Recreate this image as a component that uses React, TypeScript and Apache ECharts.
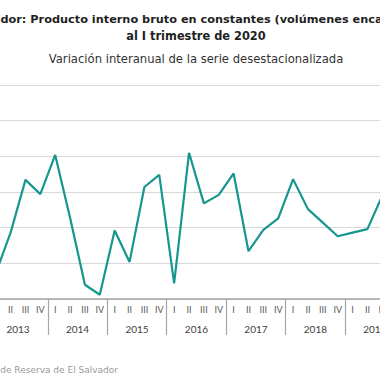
import React, { useEffect, useRef } from "react";
import * as echarts from "echarts";

const years = ["2013", "2014", "2015", "2016", "2017", "2018", "2019"];
const quarterNames = ["I", "II", "III", "IV"];
const quarters: string[] = years.flatMap(() => quarterNames);
// Variación interanual (%), I-2013 .. IV-2019
const values = [
  1.36, 1.93, 2.67, 2.47,
  3.02, 2.14, 1.2, 1.06,
  1.96, 1.52, 2.57, 2.74,
  1.22, 3.05, 2.34, 2.46,
  2.76, 1.67, 1.97, 2.13,
  2.68, 2.26, 2.07, 1.88,
  1.93, 1.98, 2.45, 2.5,
];
const titleLine1 = "El Salvador: Producto interno bruto en constantes (volúmenes encadenados)";
const titleLine2 = "al I trimestre de 2020";
const subtitle = "Variación interanual de la serie desestacionalizada";
const source = "Fuente: Banco Central de Reserva de El Salvador";

const OFF = 60; // chart is shifted left by this many px inside the visible window
const W = 520;
const H = 380;

export default function App() {
  const ref = useRef<HTMLDivElement>(null);
  useEffect(() => {
    if (!ref.current) return;
    const chart = echarts.init(ref.current, null, { renderer: "svg" });
    const font = "Lato, 'Open Sans', sans-serif";
    const wide = "'DejaVu Sans', sans-serif";
    chart.setOption({
      animation: false,
      backgroundColor: "#ffffff",
      grid: { left: -11.7 + OFF, right: W - (404.6 + OFF), top: 85, bottom: H - 299 },
      graphic: [
        {
          type: "text",
          x: 196 + OFF,
          y: 19.5,
          style: {
            text: titleLine1,
            font: `bold 11.3px ${wide}`,
            fill: "#1f1f1f",
            textAlign: "center",
            textVerticalAlign: "middle",
          },
        },
        {
          type: "text",
          x: 196 + OFF,
          y: 35.5,
          style: {
            text: titleLine2,
            font: `bold 11.4px ${wide}`,
            fill: "#1f1f1f",
            textAlign: "center",
            textVerticalAlign: "middle",
          },
        },
        {
          type: "text",
          x: 196 + OFF,
          y: 59,
          style: {
            text: subtitle,
            font: `11.6px ${wide}`,
            fill: "#333333",
            textAlign: "center",
            textVerticalAlign: "middle",
          },
        },
        {
          type: "text",
          x: 118 + OFF,
          y: 370,
          style: {
            text: source,
            font: `9px ${wide}`,
            fill: "#9a9a9a",
            textAlign: "right",
            textVerticalAlign: "middle",
          },
        },
      ],
      xAxis: [
        {
          type: "category",
          data: quarters,
          boundaryGap: true,
          position: "bottom",
          axisLine: { show: true, lineStyle: { color: "#a6a6a6", width: 1.5 } },
          axisTick: { show: false },
          axisLabel: { interval: 0, margin: 6, fontSize: 9, color: "#595959", fontFamily: font },
          splitLine: { show: false },
        },
        {
          type: "category",
          data: years,
          boundaryGap: true,
          position: "bottom",
          axisLine: { show: false },
          axisTick: { show: true, length: 36, lineStyle: { color: "#a6a6a6", width: 1.2 } },
          axisLabel: { interval: 0, margin: 25, fontSize: 10, color: "#404040", fontFamily: font },
          splitLine: { show: false },
        },
      ],
      yAxis: {
        type: "value",
        min: 1,
        max: 4,
        interval: 0.5,
        axisLine: { show: false },
        axisTick: { show: false },
        axisLabel: { show: false },
        splitLine: { show: true, lineStyle: { color: "#d9d9d9", width: 1 } },
      },
      series: [
        {
          type: "line",
          data: values,
          xAxisIndex: 0,
          showSymbol: false,
          symbol: "none",
          lineStyle: { color: "#17968f", width: 2.2 },
        },
      ],
    });
    return () => chart.dispose();
  }, []);
  return (
    <div
      style={{
        position: "fixed",
        left: 0,
        top: 0,
        width: 380,
        height: 380,
        overflow: "hidden",
        background: "#fff",
      }}
    >
      <div ref={ref} style={{ position: "absolute", left: -OFF, top: 0, width: W, height: H }} />
    </div>
  );
}
